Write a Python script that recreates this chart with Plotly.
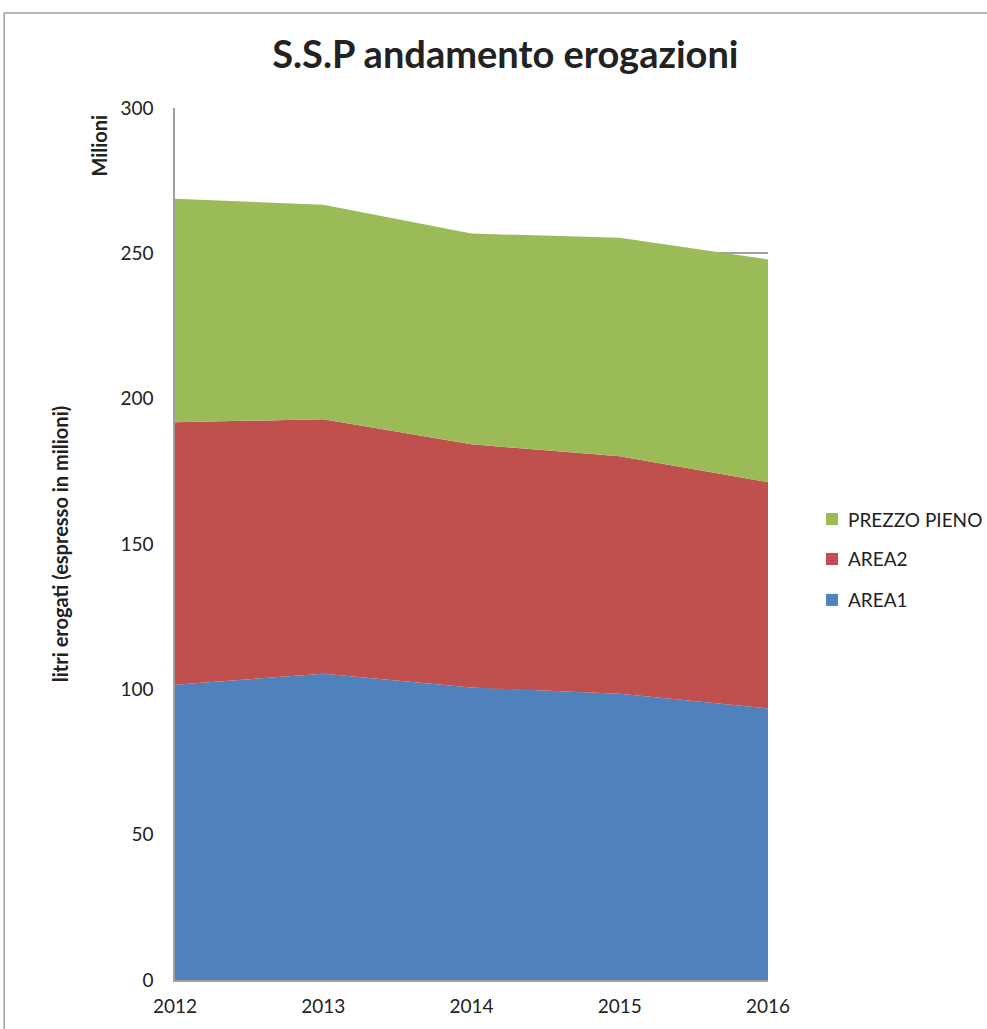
import plotly.graph_objects as go

years = [2012, 2013, 2014, 2015, 2016]
area1 = [101.6, 105.4, 100.6, 98.5, 93.4]
area2 = [90.3, 87.5, 83.7, 81.7, 77.9]
prezzo_pieno = [76.9, 73.8, 72.5, 75.2, 76.6]

series = [
    ("AREA1", area1, "#4F81BD"),
    ("AREA2", area2, "#C0504D"),
    ("PREZZO PIENO", prezzo_pieno, "#9BBB59"),
]

fig = go.Figure()
for name, vals, color in series:
    fig.add_trace(go.Scatter(
        x=years, y=vals, name=name, mode="lines", stackgroup="one",
        line=dict(width=0, color=color), fillcolor=color, showlegend=False,
    ))

font_family = "Lato, 'Open Sans', sans-serif"
fig.update_layout(
    width=987, height=1029,
    margin=dict(l=175, r=219, t=108, b=47),
    paper_bgcolor="white", plot_bgcolor="white",
    font=dict(family=font_family, size=19, color="#222"),
    title=dict(text="<b>S.S.P andamento erogazioni</b>", x=0.512, xanchor="center",
               y=0.947, yanchor="middle", font=dict(size=38, color="#222")),
    showlegend=False,
    xaxis=dict(range=[2012, 2016], tickmode="array", tickvals=years,
               ticktext=[str(y) for y in years], showgrid=False,
               showline=True, linecolor="#A0A0A0", linewidth=1.5,
               ticks="", ticklabelstandoff=8, tickfont=dict(size=19)),
    yaxis=dict(range=[0, 300], dtick=50, showgrid=True, gridcolor="#A0A0A0",
               gridwidth=1.5, showline=True, linecolor="#A0A0A0", linewidth=1.5,
               ticks="", zeroline=False, tickfont=dict(size=19), ticklabelstandoff=16,
               title=dict(text="<b>litri erogati (espresso in milioni)</b>",
                          font=dict(size=20), standoff=46)),
)

# manual legend (top to bottom: reversed stack order)
legend_y = [0.5286, 0.4828, 0.4359]
for (name, vals, color), ly in zip(reversed(series), legend_y):
    fig.add_shape(type="rect", xref="paper", yref="paper",
                  x0=1.0978, x1=1.118, y0=ly - 0.0069, y1=ly + 0.0069,
                  line=dict(width=0), fillcolor=color)
    fig.add_annotation(text=name, xref="paper", yref="paper", x=1.1315, y=ly,
                       xanchor="left", yanchor="middle", showarrow=False,
                       font=dict(size=19, color="#222"))

fig.add_annotation(text="<b>Milioni</b>", xref="paper", yref="paper",
                   x=-0.128, y=0.957, textangle=-90, showarrow=False,
                   font=dict(size=20, color="#222"), xanchor="center", yanchor="middle")

fig.add_shape(type="rect", xref="paper", yref="paper",
              x0=-0.288, x1=1.5, y0=-0.2, y1=1.109,
              line=dict(color="#A0A0A0", width=1.5), fillcolor="rgba(0,0,0,0)")

fig.write_html("out.html", config={"displayModeBar": False},
               post_script="document.body.style.margin='0';document.body.style.overflow='hidden';")
